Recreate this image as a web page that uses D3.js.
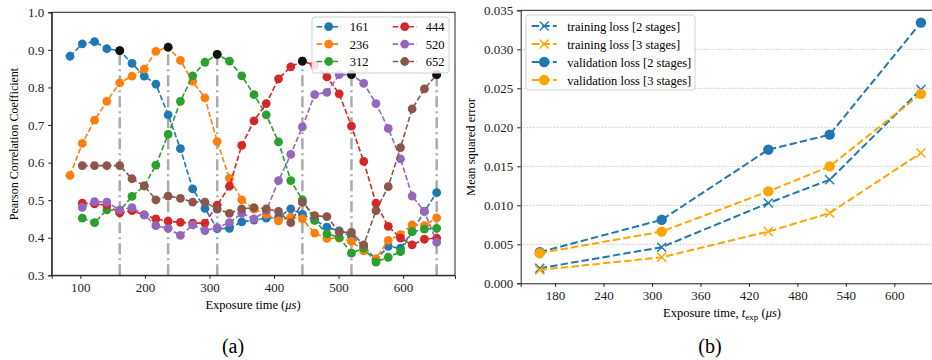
<!DOCTYPE html>
<html>
<head>
<meta charset="utf-8">
<script src="https://cdn.jsdelivr.net/npm/d3@7"></script>
<style>
  body { margin: 0; background: #fff; }
  svg { display: block; }
  svg text { font-family: "Liberation Serif", "DejaVu Serif", serif; }
</style>
</head>
<body>
<svg id="chart" width="932" height="360"></svg>
<script>
// ---- data: panel (a) ----
const times = [84, 103, 122, 141, 161, 180, 199, 217, 236, 255, 274, 293, 312, 331, 350, 369,
  388, 407, 426, 444, 463, 482, 501, 520, 539, 558, 577, 596, 614, 633, 652];
const peakNames = [161, 236, 312, 444, 520, 652];
const s161 = [0.883, 0.916, 0.922, 0.903, 0.898, 0.864, 0.830, 0.809, 0.727, 0.637, 0.530, 0.478, 0.424, 0.425, 0.442, 0.447,
  0.452, 0.455, 0.477, 0.462, 0.447, 0.428, 0.418, 0.404, 0.378, 0.342, 0.377, 0.372, 0.416, 0.470, 0.520];
const s236 = [0.566, 0.651, 0.713, 0.763, 0.812, 0.830, 0.849, 0.896, 0.907, 0.872, 0.816, 0.772, 0.656, 0.558, 0.501, 0.476,
  0.462, 0.445, 0.455, 0.450, 0.412, 0.398, 0.399, 0.390, 0.365, 0.344, 0.393, 0.408, 0.434, 0.432, 0.453];
// the next four start at 103
const s312 = [0.452, 0.440, 0.474, 0.472, 0.510, 0.538, 0.593, 0.675, 0.763, 0.831, 0.867, 0.888, 0.870, 0.831, 0.781,
  0.727, 0.655, 0.552, 0.501, 0.446, 0.410, 0.401, 0.359, 0.372, 0.335, 0.348, 0.363, 0.416, 0.423, 0.425];
const s444 = [0.492, 0.490, 0.487, 0.466, 0.472, 0.461, 0.450, 0.444, 0.441, 0.439, 0.439, 0.487, 0.537, 0.646, 0.711,
  0.757, 0.823, 0.855, 0.870, 0.859, 0.828, 0.783, 0.697, 0.603, 0.492, 0.430, 0.399, 0.381, 0.396, 0.399];
const s520 = [0.481, 0.496, 0.495, 0.474, 0.480, 0.461, 0.432, 0.425, 0.406, 0.434, 0.419, 0.427, 0.440, 0.465, 0.450,
  0.472, 0.552, 0.622, 0.695, 0.781, 0.787, 0.834, 0.834, 0.811, 0.757, 0.691, 0.610, 0.511, 0.470, 0.388];
const s652 = [0.592, 0.592, 0.592, 0.592, 0.557, 0.538, 0.501, 0.511, 0.505, 0.495, 0.495, 0.476, 0.465, 0.477, 0.480,
  0.477, 0.470, 0.440, 0.494, 0.459, 0.456, 0.415, 0.414, 0.381, 0.472, 0.536, 0.640, 0.743, 0.796, 0.834];
const colorsA = ["#1f77b4", "#ff7f0e", "#2ca02c", "#d62728", "#9467bd", "#8c564b"];
const xTicksA = [100, 200, 300, 400, 500, 600];
const yTicksA = [0.3, 0.4, 0.5, 0.6, 0.7, 0.8, 0.9, 1.0];

// ---- data: panel (b) ----
const stageTimes = [161, 312, 444, 520, 633];
const train2 = [0.00193, 0.00463, 0.01028, 0.01328, 0.02485];
const train3 = [0.00171, 0.00334, 0.00663, 0.00900, 0.01671];
const val2 = [0.00400, 0.00814, 0.01713, 0.01906, 0.03342];
const val3 = [0.00386, 0.00663, 0.01178, 0.01499, 0.02429];
const lossNames = ["training loss [2 stages]", "training loss [3 stages]", "validation loss [2 stages]", "validation loss [3 stages]"];
const xTicksB = [180, 240, 300, 360, 420, 480, 540, 600];
const yTicksB = [0, 0.005, 0.010, 0.015, 0.020, 0.025, 0.030, 0.035];

const svg = d3.select("#chart");
const fs = 13;

// ================= panel (a) =================
const series = [s161, s236, s312, s444, s520, s652].map((vals, i) => {
  const ts = vals.length === times.length ? times : times.slice(1);
  return { name: peakNames[i], color: colorsA[i], pts: vals.map((v, j) => ({ t: ts[j], v: v })) };
});

const xa = d3.scaleLinear().domain([55.6, 680.4]).range([51.7, 455]);
const ya = d3.scaleLinear().domain([0.3, 1.0]).range([275.3, 12.3]);
const ga = svg.append("g");

// dash-dot markers under each peak
series.forEach(s => {
  const p = s.pts.find(d => d.t === s.name);
  ga.append("line")
    .attr("x1", xa(p.t)).attr("x2", xa(p.t))
    .attr("y1", ya(0.3)).attr("y2", ya(p.v))
    .attr("stroke", "#ababab").attr("stroke-width", 2.5)
    .attr("stroke-dasharray", "11,4,2,4");
});

const lineA = d3.line().x(d => xa(d.t)).y(d => ya(d.v));
series.forEach(s => {
  const g = ga.append("g");
  g.append("path").datum(s.pts)
    .attr("d", lineA).attr("fill", "none")
    .attr("stroke", s.color).attr("stroke-width", 1.6)
    .attr("stroke-dasharray", "5.5,2.4");
  g.selectAll("circle").data(s.pts).join("circle")
    .attr("cx", d => xa(d.t)).attr("cy", d => ya(d.v))
    .attr("r", 4.4).attr("fill", s.color);
});
series.forEach(s => {
  const p = s.pts.find(d => d.t === s.name);
  ga.append("circle").attr("cx", xa(p.t)).attr("cy", ya(p.v)).attr("r", 4.4).attr("fill", "#111");
});

ga.append("g").attr("transform", "translate(0,275.3)")
  .call(d3.axisBottom(xa).tickValues(xTicksA).tickSize(3.5).tickPadding(4).tickFormat(d3.format("d")));
ga.append("g").attr("transform", "translate(51.7,0)")
  .call(d3.axisLeft(ya).tickValues(yTicksA).tickSize(3.5).tickPadding(4).tickFormat(d3.format(".1f")));
ga.append("rect").attr("x", 51.7).attr("y", 12.3).attr("width", 455 - 51.7).attr("height", 275.3 - 12.3)
  .attr("fill", "none").attr("stroke", "#222").attr("stroke-width", 1);

// legend (a)
const lga = ga.append("g");
lga.append("rect").attr("x", 312).attr("y", 17).attr("width", 137).attr("height", 56).attr("rx", 3)
  .attr("fill", "rgba(255,255,255,0.85)").attr("stroke", "#d0d0d0");
series.forEach((s, i) => {
  const col = Math.floor(i / 3), row = i % 3;
  const x0 = col === 0 ? 316.7 : 392.7, y0 = 26.7 + row * 17.4;
  lga.append("line").attr("x1", x0).attr("x2", x0 + 24).attr("y1", y0).attr("y2", y0)
    .attr("stroke", s.color).attr("stroke-width", 1.6).attr("stroke-dasharray", "5.5,2.4");
  lga.append("circle").attr("cx", x0 + 12).attr("cy", y0).attr("r", 4.4).attr("fill", s.color);
  lga.append("text").attr("x", x0 + 33).attr("y", y0 + 4.5).attr("font-size", 12.5).text(s.name);
});

// labels (a)
svg.append("text").attr("transform", "translate(18,144) rotate(-90)")
  .attr("text-anchor", "middle").attr("font-size", 12).text("Pearson Correlation Coefficient");
const xla = svg.append("text").attr("x", 253).attr("y", 309).attr("text-anchor", "middle").attr("font-size", 12.5);
xla.append("tspan").text("Exposure time (");
xla.append("tspan").attr("font-style", "italic").text("μs");
xla.append("tspan").text(")");
svg.append("text").attr("x", 233).attr("y", 353).attr("text-anchor", "middle").attr("font-size", 20).text("(a)");

// ================= panel (b) =================
const xb = d3.scaleLinear().domain([137.4, 656.6]).range([520.7, 940]);
const yb = d3.scaleLinear().domain([0, 0.035]).range([283.3, 10.3]);
const gb = svg.append("g");

gb.selectAll("line.grid").data(yTicksB.slice(1, -1)).join("line")
  .attr("class", "grid")
  .attr("x1", 520.7).attr("x2", 932).attr("y1", d => yb(d)).attr("y2", d => yb(d))
  .attr("stroke", "#b5b5b5").attr("stroke-width", 0.8).attr("stroke-dasharray", "1.5,1.5");

const blue = "#1f77b4", orange = "#ffa500";
const lossSeries = [
  { vals: train2, color: blue, mark: "x" },
  { vals: train3, color: orange, mark: "x" },
  { vals: val2, color: blue, mark: "o" },
  { vals: val3, color: orange, mark: "o" }
];
const lineB = d3.line().x((d, i) => xb(stageTimes[i])).y(d => yb(d));

function drawMark(g, x, y, s) {
  if (s.mark === "o") {
    g.append("circle").attr("cx", x).attr("cy", y).attr("r", 5.2).attr("fill", s.color);
  } else {
    g.append("path").attr("d", `M${x - 4.5},${y - 4.5}L${x + 4.5},${y + 4.5}M${x - 4.5},${y + 4.5}L${x + 4.5},${y - 4.5}`)
      .attr("stroke", s.color).attr("stroke-width", 1.4).attr("fill", "none");
  }
}

lossSeries.forEach(s => {
  const g = gb.append("g");
  g.append("path").datum(s.vals).attr("d", lineB).attr("fill", "none")
    .attr("stroke", s.color).attr("stroke-width", 2).attr("stroke-dasharray", "7.4,3.2");
  s.vals.forEach((v, i) => drawMark(g, xb(stageTimes[i]), yb(v), s));
});

gb.append("g").attr("transform", "translate(0,283.3)")
  .call(d3.axisBottom(xb).tickValues(xTicksB).tickSize(3.5).tickPadding(4).tickFormat(d3.format("d")));
gb.append("g").attr("transform", "translate(520.7,0)")
  .call(d3.axisLeft(yb).tickValues(yTicksB).tickSize(3.5).tickPadding(4).tickFormat(d3.format(".3f")));
gb.append("line").attr("x1", 520.7).attr("x2", 932).attr("y1", 10.3).attr("y2", 10.3)
  .attr("stroke", "#222").attr("stroke-width", 1);

// legend (b)
const lgb = gb.append("g");
lgb.append("rect").attr("x", 526).attr("y", 15).attr("width", 169).attr("height", 75).attr("rx", 3)
  .attr("fill", "rgba(255,255,255,0.85)").attr("stroke", "#d0d0d0");
lossSeries.forEach((s, i) => {
  const y0 = 26 + i * 18;
  lgb.append("line").attr("x1", 531.7).attr("x2", 556.7).attr("y1", y0).attr("y2", y0)
    .attr("stroke", s.color).attr("stroke-width", 2).attr("stroke-dasharray", "7.4,3.2");
  drawMark(lgb, 544.2, y0, s);
  lgb.append("text").attr("x", 567.3).attr("y", y0 + 4.5).attr("font-size", 12.5).text(lossNames[i]);
});

// labels (b)
svg.append("text").attr("transform", "translate(475,147) rotate(-90)")
  .attr("text-anchor", "middle").attr("font-size", 12.5).text("Mean squared error");
const xlb = svg.append("text").attr("x", 722).attr("y", 317).attr("text-anchor", "middle").attr("font-size", 12.5);
xlb.append("tspan").text("Exposure time, ");
xlb.append("tspan").attr("font-style", "italic").text("t");
xlb.append("tspan").attr("font-size", 9).attr("dy", 3).text("exp");
xlb.append("tspan").attr("dy", -3).text(" (");
xlb.append("tspan").attr("font-style", "italic").text("μs");
xlb.append("tspan").text(")");
svg.append("text").attr("x", 710).attr("y", 353).attr("text-anchor", "middle").attr("font-size", 20).text("(b)");

// axis text styling
svg.selectAll("g[font-family]").attr("font-family", null);
svg.selectAll(".tick text").attr("font-size", fs).attr("fill", "#222");
svg.selectAll(".domain").attr("stroke", "#222");
svg.selectAll(".tick line").attr("stroke", "#222");
</script>
</body>
</html>
